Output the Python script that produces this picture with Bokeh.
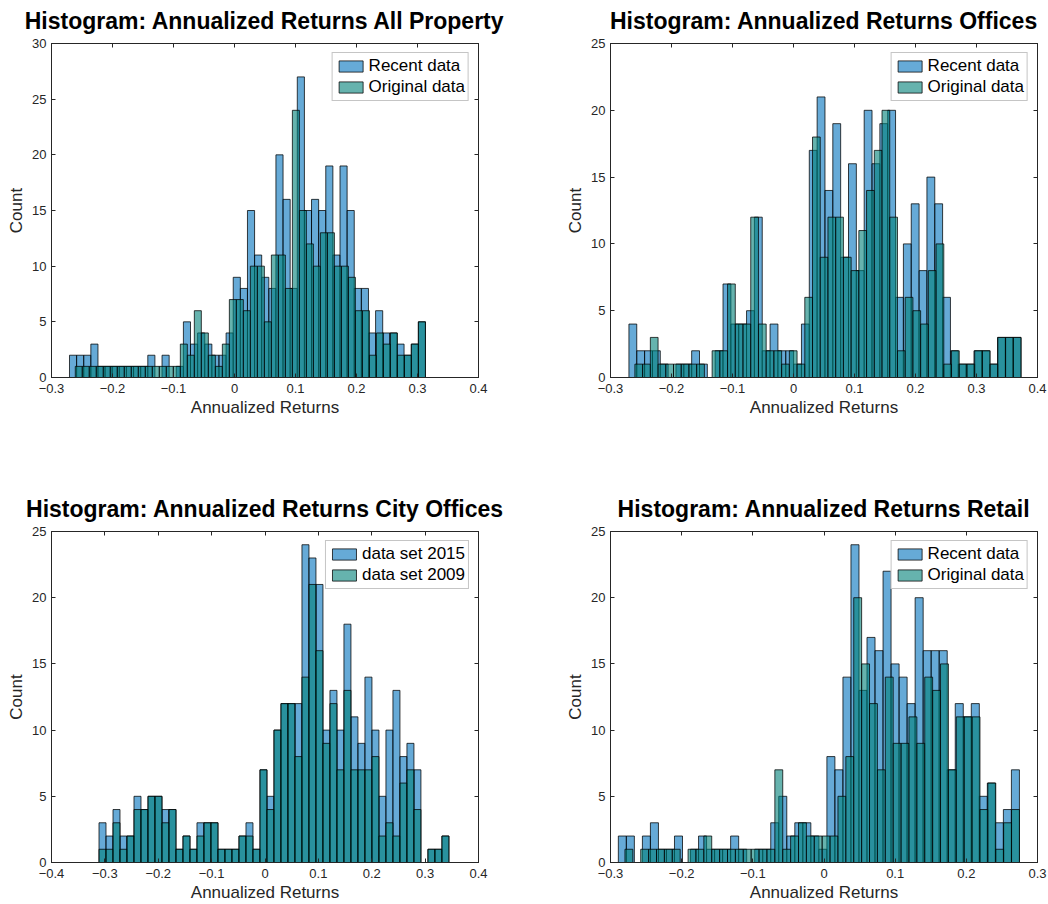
import numpy as np
from bokeh.plotting import figure
from bokeh.models import (Range1d, LinearAxis, FixedTicker, Legend, LegendItem,
                          CustomLabelingPolicy)
from bokeh.layouts import column, row
from bokeh.embed import file_html
from bokeh.resources import INLINE

# ---------------- data: 50-bin histogram counts, each series with its own bin range
# All Property
allprop_recent_range = (-0.2705, 0.313)
allprop_recent = [2, 2, 2, 3, 1, 1, 1, 1, 1, 1, 1, 2, 0, 2, 0, 1, 5, 3, 4, 3,
                  2, 2, 4, 9, 8, 15, 11, 9, 8, 20, 16, 8, 27, 15, 16, 15, 19, 11, 19, 15,
                  8, 8, 4, 6, 4, 4, 3, 2, 3, 5]
allprop_original_range = (-0.261, 0.313)
allprop_original = [1, 1, 1, 1, 1, 1, 1, 1, 1, 1, 1, 1, 1, 1, 1, 3, 2, 6, 4, 2,
                    1, 3, 7, 7, 6, 10, 10, 5, 11, 11, 8, 24, 15, 12, 10, 13, 13, 10, 10, 9,
                    6, 6, 2, 4, 3, 4, 2, 2, 3, 5]

# Offices
offices_recent_range = (-0.2698, 0.373)
offices_recent = [4, 2, 2, 2, 1, 0, 1, 1, 2, 1, 0, 2, 7, 4, 4, 5, 12, 2, 4, 2,
                  2, 1, 4, 17, 21, 14, 19, 9, 16, 8, 20, 16, 19, 20, 6, 10, 13, 8, 15, 13,
                  6, 2, 1, 1, 2, 2, 1, 3, 3, 3]
offices_original_range = (-0.260, 0.373)
offices_original = [1, 1, 3, 1, 1, 1, 1, 1, 1, 0, 2, 2, 7, 4, 4, 12, 4, 2, 2, 1,
                    2, 1, 6, 18, 9, 12, 12, 9, 8, 11, 14, 17, 20, 12, 2, 6, 5, 4, 8, 10,
                    1, 2, 1, 1, 2, 2, 1, 3, 3, 3]

# City Offices (both data sets share the same bins)
city_range = (-0.311, 0.3446)
city_2015 = [3, 2, 4, 2, 2, 5, 4, 5, 5, 4, 4, 1, 2, 1, 3, 3, 3, 1, 1, 1,
             2, 3, 1, 7, 5, 10, 12, 12, 12, 24, 23, 21, 10, 13, 10, 18, 11, 9, 14, 10,
             5, 10, 13, 8, 9, 7, 0, 1, 1, 2]
city_2009 = [1, 1, 3, 1, 2, 4, 4, 5, 5, 3, 4, 1, 2, 1, 2, 3, 3, 1, 1, 1,
             2, 2, 1, 7, 4, 10, 12, 12, 8, 14, 21, 16, 9, 12, 7, 13, 7, 7, 7, 8,
             2, 3, 2, 6, 7, 4, 0, 1, 1, 2]

# Retail
retail_recent_range = (-0.289, 0.2746)
retail_recent = [2, 2, 0, 2, 3, 1, 1, 2, 0, 1, 2, 1, 1, 1, 2, 1, 0, 1, 1, 3,
                 5, 2, 3, 3, 2, 1, 8, 7, 14, 24, 13, 17, 16, 22, 15, 14, 12, 20, 16, 16,
                 16, 7, 12, 11, 12, 5, 6, 3, 4, 7]
retail_original_range = (-0.2797, 0.2746)
retail_original = [1, 0, 1, 1, 1, 1, 1, 0, 1, 1, 2, 1, 1, 1, 1, 1, 1, 1, 1, 7,
                   1, 2, 3, 2, 2, 2, 2, 5, 8, 20, 15, 12, 7, 14, 9, 9, 11, 9, 14, 13,
                   15, 7, 11, 11, 11, 4, 6, 1, 3, 4]

# axis ticks
ticks_x_wide = [-0.4, -0.3, -0.2, -0.1, 0.0, 0.1, 0.2, 0.3, 0.4]
ticks_x_std = [-0.3, -0.2, -0.1, 0.0, 0.1, 0.2, 0.3, 0.4]
ticks_x_retail = [-0.3, -0.2, -0.1, 0.0, 0.1, 0.2, 0.3]
ticks_y_30 = [0, 5, 10, 15, 20, 25, 30]
ticks_y_25 = [0, 5, 10, 15, 20, 25]

# ---------------- styling
FONT = "Liberation Sans"
INK = "#262626"
BLUE = (0, 114, 189)
TEAL = (0, 128, 120)

# tick-only axes (box ticks on top and right): drop every label
NO_LABELS = CustomLabelingPolicy(code="""
    for (const i of indices) indices.unset(i)
    return indices
""")


def style_axis(ax, ticks, show_labels):
    ax.ticker = FixedTicker(ticks=ticks)
    ax.axis_line_color = INK
    ax.axis_line_width = 1
    ax.major_tick_line_color = INK
    ax.major_tick_in = 4
    ax.major_tick_out = 0
    ax.minor_tick_line_color = None
    if show_labels:
        ax.major_label_text_font = FONT
        ax.major_label_text_font_size = "13px"
        ax.major_label_text_color = INK
        ax.major_label_overrides = {0: "0"}
        ax.axis_label_text_font = FONT
        ax.axis_label_text_font_size = "17px"
        ax.axis_label_text_font_style = "normal"
        ax.axis_label_text_color = INK
    else:
        ax.major_label_policy = NO_LABELS
        ax.major_label_text_font_size = "1px"
        ax.major_label_standoff = 0


def histogram_panel(title, series, labels, xticks, yticks, width, height, borders):
    left, right, top, bottom = borders
    p = figure(width=width, height=height, output_backend="svg", toolbar_location=None,
               x_range=Range1d(xticks[0], xticks[-1]), y_range=Range1d(yticks[0], yticks[-1]),
               min_border_left=left, min_border_right=right,
               min_border_top=top, min_border_bottom=bottom,
               x_axis_label="Annualized Returns", y_axis_label="Count")
    p.background_fill_color = "white"
    p.border_fill_color = "white"
    p.outline_line_color = INK
    p.xgrid.visible = False
    p.ygrid.visible = False

    p.title.text = title
    p.title.align = "center"
    p.title.text_font = FONT
    p.title.text_font_size = "23px"
    p.title.text_font_style = "bold"
    p.title.text_color = "black"
    p.title.standoff = 11

    style_axis(p.xaxis[0], xticks, True)
    style_axis(p.yaxis[0], yticks, True)
    p.xaxis[0].major_label_standoff = 6
    p.xaxis[0].axis_label_standoff = 2
    p.yaxis[0].major_label_standoff = 5
    p.yaxis[0].axis_label_standoff = 3

    top_axis = LinearAxis()
    style_axis(top_axis, xticks, False)
    p.add_layout(top_axis, "above")
    right_axis = LinearAxis()
    style_axis(right_axis, yticks, False)
    p.add_layout(right_axis, "right")

    renderers = []
    for (lo, hi), counts, rgb in series:
        edges = np.linspace(lo, hi, len(counts) + 1)
        r = p.quad(left=edges[:-1], right=edges[1:], bottom=0, top=counts,
                   fill_color=rgb, fill_alpha=0.6,
                   line_color="black", line_alpha=0.75, line_width=1)
        renderers.append(r)

    legend = Legend(items=[LegendItem(label=lab, renderers=[r]) for lab, r in zip(labels, renderers)],
                    location="top_right")
    legend.label_text_font = FONT
    legend.label_text_font_size = "17px"
    legend.label_text_line_height = 1.0
    legend.label_text_color = "black"
    legend.label_height = 16
    legend.label_standoff = 3
    legend.glyph_width = 30
    legend.glyph_height = 14
    legend.spacing = 1
    legend.padding = 3
    legend.margin = 9
    legend.border_line_color = "#8c8c8c"
    legend.border_line_width = 1
    legend.background_fill_color = "white"
    legend.background_fill_alpha = 1
    p.add_layout(legend)
    return p


TOP_H, BOT_H = 470, 434
LEFT_W, RIGHT_W = 559, 489

p1 = histogram_panel("Histogram: Annualized Returns All Property",
                     [(allprop_recent_range, allprop_recent, BLUE),
                      (allprop_original_range, allprop_original, TEAL)],
                     ["Recent data", "Original data"], ticks_x_std, ticks_y_30,
                     LEFT_W, TOP_H, (51, 81, 42, 93))
p2 = histogram_panel("Histogram: Annualized Returns Offices",
                     [(offices_recent_range, offices_recent, BLUE),
                      (offices_original_range, offices_original, TEAL)],
                     ["Recent data", "Original data"], ticks_x_std, ticks_y_25,
                     RIGHT_W, TOP_H, (51, 11, 42, 93))
p3 = histogram_panel("Histogram: Annualized Returns City Offices",
                     [(city_range, city_2015, BLUE),
                      (city_range, city_2009, TEAL)],
                     ["data set 2015", "data set 2009"], ticks_x_wide, ticks_y_25,
                     LEFT_W, BOT_H, (51, 81, 61, 37))
p4 = histogram_panel("Histogram: Annualized Returns Retail",
                     [(retail_recent_range, retail_recent, BLUE),
                      (retail_original_range, retail_original, TEAL)],
                     ["Recent data", "Original data"], ticks_x_retail, ticks_y_25,
                     RIGHT_W, BOT_H, (51, 11, 61, 37))

layout = column(row(p1, p2), row(p3, p4))
open("out.html", "w").write(file_html(layout, INLINE))
